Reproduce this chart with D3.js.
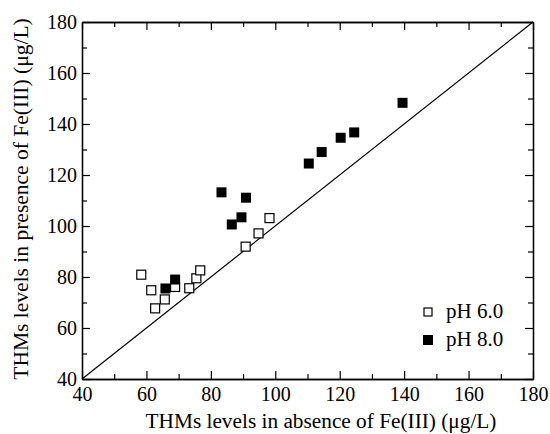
<!DOCTYPE html>
<meta charset="utf-8">
<script src="https://d3js.org/d3.v7.min.js"></script>
<style>
  body { margin: 0; background: #fff; }
  svg text { font-family: "Liberation Serif", "Times New Roman", serif; fill: #000; }
</style>
<div id="chart"></div>
<script>
// pH 6.0 (open squares)
var ph6X = [58.4, 61.5, 62.7, 65.7, 68.9, 73.3, 75.5, 76.7, 90.8, 94.8, 98.2];
var ph6Y = [80.9, 74.8, 67.7, 71.2, 76.1, 75.6, 79.5, 82.6, 91.9, 97.1, 103.1];
// pH 8.0 (filled squares)
var ph8X = [65.9, 68.9, 83.3, 86.5, 89.5, 90.9, 110.4, 114.4, 120.3, 124.5, 139.5];
var ph8Y = [75.5, 79.0, 113.2, 100.6, 103.4, 111.1, 124.5, 129.0, 134.6, 136.7, 148.3];
var tickValues = [40, 60, 80, 100, 120, 140, 160, 180];
var minorTicks = [50, 70, 90, 110, 130, 150, 170];
var legendLabels = ["pH 6.0", "pH 8.0"];

var W = 550, H = 434;
var margin = {top: 22, right: 17, bottom: 55, left: 82};
var width = W - margin.left - margin.right,
    height = H - margin.top - margin.bottom;

var svg = d3.select("#chart").append("svg")
    .attr("width", W)
    .attr("height", H);
var g = svg.append("g")
    .attr("transform", "translate(" + margin.left + "," + margin.top + ")");

var x = d3.scaleLinear().domain([40, 180]).range([0, width]);
var y = d3.scaleLinear().domain([40, 180]).range([height, 0]);

// axes, ticks pointing inward, mirrored on top/right
function styleAxis(sel) {
  sel.attr("font-family", null).attr("font-size", null);
  sel.selectAll("text").style("font-size", "20px");
  sel.selectAll("line").attr("stroke", "#000").attr("stroke-width", 1.2);
  sel.select(".domain").attr("stroke", "#000").attr("stroke-width", 1.3);
}
g.append("g").attr("transform", "translate(0," + height + ")")
  .call(d3.axisBottom(x).tickValues(tickValues).tickSize(-8).tickPadding(8).tickSizeOuter(0))
  .call(styleAxis);
g.append("g").attr("transform", "translate(0," + height + ")")
  .call(d3.axisBottom(x).tickValues(minorTicks).tickSize(-5).tickFormat("").tickSizeOuter(0))
  .call(styleAxis);
g.append("g")
  .call(d3.axisLeft(y).tickValues(tickValues).tickSize(-8).tickPadding(5).tickSizeOuter(0))
  .call(styleAxis);
g.append("g")
  .call(d3.axisLeft(y).tickValues(minorTicks).tickSize(-5).tickFormat("").tickSizeOuter(0))
  .call(styleAxis);
g.append("g")
  .call(d3.axisTop(x).tickValues(tickValues).tickSize(-8).tickFormat("").tickSizeOuter(0))
  .call(styleAxis);
g.append("g")
  .call(d3.axisTop(x).tickValues(minorTicks).tickSize(-5).tickFormat("").tickSizeOuter(0))
  .call(styleAxis);
g.append("g").attr("transform", "translate(" + width + ",0)")
  .call(d3.axisRight(y).tickValues(tickValues).tickSize(-8).tickFormat("").tickSizeOuter(0))
  .call(styleAxis);
g.append("g").attr("transform", "translate(" + width + ",0)")
  .call(d3.axisRight(y).tickValues(minorTicks).tickSize(-5).tickFormat("").tickSizeOuter(0))
  .call(styleAxis);

// 1:1 line
g.append("line")
  .attr("x1", x(40)).attr("y1", y(40))
  .attr("x2", x(180)).attr("y2", y(180))
  .attr("stroke", "#000").attr("stroke-width", 1.2);

var s = 10;
g.selectAll(".ph6").data(ph6X).enter().append("rect")
  .attr("x", function(d) { return x(d) - s / 2 + 0.5; })
  .attr("y", function(d, i) { return y(ph6Y[i]) - s / 2 + 0.5; })
  .attr("width", s - 1).attr("height", s - 1)
  .attr("fill", "#fff").attr("stroke", "#000").attr("stroke-width", 1.2);

g.selectAll(".ph8").data(ph8X).enter().append("rect")
  .attr("x", function(d) { return x(d) - s / 2; })
  .attr("y", function(d, i) { return y(ph8Y[i]) - s / 2; })
  .attr("width", s).attr("height", s)
  .attr("fill", "#000");

// legend
var leg = svg.append("g").attr("transform", "translate(428,312)");
leg.append("rect").attr("x", -4).attr("y", -4).attr("width", 8).attr("height", 8)
  .attr("fill", "#fff").attr("stroke", "#000").attr("stroke-width", 1.2);
leg.append("rect").attr("x", -5).attr("y", 23).attr("width", 10).attr("height", 10)
  .attr("fill", "#000");
leg.selectAll("text").data(legendLabels).enter().append("text")
  .attr("x", 18).attr("y", function(d, i) { return 6 + i * 28; })
  .style("font-size", "21px")
  .text(function(d) { return d; });

// axis titles
svg.append("text")
  .attr("x", 321).attr("y", 428)
  .attr("text-anchor", "middle")
  .style("font-size", "21.3px")
  .text("THMs levels in absence of Fe(III) (\u03bcg/L)");
svg.append("text")
  .attr("transform", "translate(28,199) rotate(-90)")
  .attr("text-anchor", "middle")
  .style("font-size", "21.5px")
  .text("THMs levels in presence of Fe(III) (\u03bcg/L)");
</script>
